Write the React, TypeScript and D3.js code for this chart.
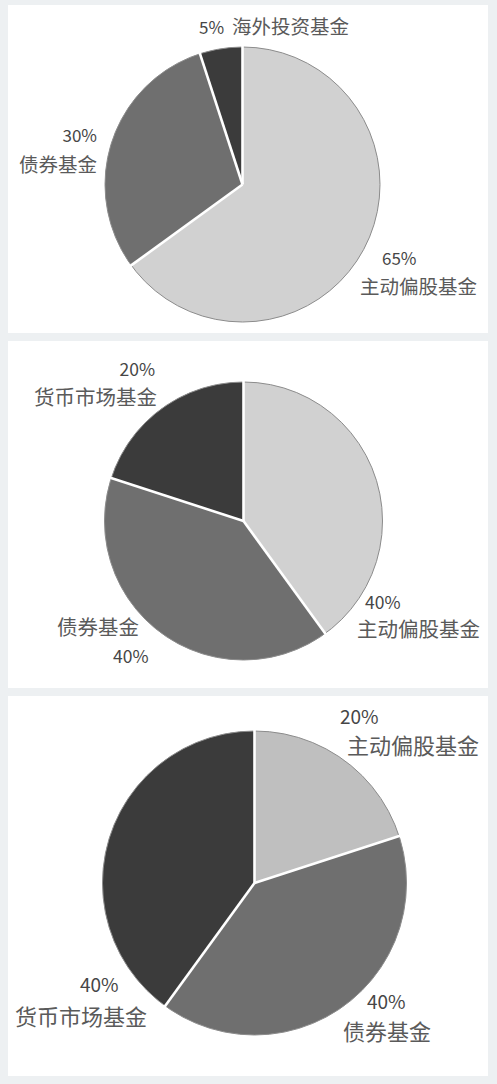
import React from "react";
import * as d3 from "d3";

const pie1Names = ["主动偏股基金", "债券基金", "海外投资基金"];
const pie1Values = [65, 30, 5];
const pie2Names = ["主动偏股基金", "债券基金", "货币市场基金"];
const pie2Values = [40, 40, 20];
const pie3Names = ["主动偏股基金", "债券基金", "货币市场基金"];
const pie3Values = [20, 40, 40];

type LabelPos = { px: number; py: number; pa: string; nx: number; ny: number; na: string };

const panels = [
  {
    names: pie1Names,
    values: pie1Values,
    colors: ["#d1d1d1", "#6f6f6f", "#3b3b3b"],
    rect: { y: 5, h: 328 },
    cx: 242.5, cy: 184.5, r: 137.5,
    pctSize: 17, nameSize: 19.5,
    labels: [
      { px: 382, py: 265, pa: "start", nx: 360, ny: 294, na: "start" },
      { px: 97, py: 142, pa: "end", nx: 97, ny: 172, na: "end" },
      { px: 199, py: 34, pa: "start", nx: 232, ny: 34, na: "start" },
    ] as LabelPos[],
  },
  {
    names: pie2Names,
    values: pie2Values,
    colors: ["#d1d1d1", "#6f6f6f", "#3b3b3b"],
    rect: { y: 341, h: 347 },
    cx: 243.5, cy: 521, r: 139,
    pctSize: 17.5, nameSize: 20.5,
    labels: [
      { px: 365, py: 609, pa: "start", nx: 357, ny: 637, na: "start" },
      { px: 113, py: 663, pa: "start", nx: 57, ny: 635, na: "start" },
      { px: 155, py: 376, pa: "end", nx: 157, ny: 405, na: "end" },
    ] as LabelPos[],
  },
  {
    names: pie3Names,
    values: pie3Values,
    colors: ["#bfbfbf", "#6f6f6f", "#3b3b3b"],
    rect: { y: 696, h: 380 },
    cx: 254.5, cy: 883, r: 152,
    pctSize: 19, nameSize: 22,
    labels: [
      { px: 340, py: 724, pa: "start", nx: 347, ny: 754, na: "start" },
      { px: 367, py: 1009, pa: "start", nx: 343, ny: 1040, na: "start" },
      { px: 80, py: 992, pa: "start", nx: 15, ny: 1025, na: "start" },
    ] as LabelPos[],
  },
];

const FONT = "'Noto Sans CJK SC', 'Noto Sans', sans-serif";

function PiePanel({ p }: { p: (typeof panels)[number] }) {
  const pieGen = d3.pie<number>().sort(null).value((d) => d);
  const arcs = pieGen(p.values);
  const arcGen = d3.arc<d3.PieArcDatum<number>>().innerRadius(0).outerRadius(p.r);
  const boundaries = arcs.map((a) => a.startAngle);
  return (
    <g>
      <rect x={8} y={p.rect.y} width={480} height={p.rect.h} fill="#ffffff" />
      <g transform={`translate(${p.cx},${p.cy})`}>
        {arcs.map((a, i) => (
          <path key={i} d={arcGen(a) || ""} fill={p.colors[i]} />
        ))}
        <circle r={p.r} fill="none" stroke="#8c8c8c" strokeWidth={1} />
        {boundaries.map((ang, i) => (
          <line
            key={i}
            x1={0}
            y1={0}
            x2={(p.r + 1) * Math.sin(ang)}
            y2={-(p.r + 1) * Math.cos(ang)}
            stroke="#ffffff"
            strokeWidth={2.6}
          />
        ))}
      </g>
      {p.labels.map((l, i) => (
        <g key={i} fontFamily={FONT}>
          <text x={l.px} y={l.py} textAnchor={l.pa as any} fontSize={p.pctSize} fill="#464646">
            {`${p.values[i]}%`}
          </text>
          <text x={l.nx} y={l.ny} textAnchor={l.na as any} fontSize={p.nameSize} fill="#5a5a5a">
            {p.names[i]}
          </text>
        </g>
      ))}
    </g>
  );
}

export default function App() {
  return (
    <svg
      width={497}
      height={1084}
      style={{ position: "absolute", left: 0, top: 0, display: "block" }}
    >
      <rect x={0} y={0} width={497} height={1084} fill="#edf0f2" />
      {panels.map((p, i) => (
        <PiePanel key={i} p={p} />
      ))}
    </svg>
  );
}
